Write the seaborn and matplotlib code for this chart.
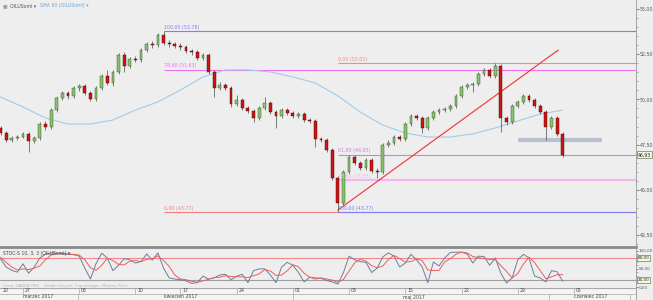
import numpy as np
import matplotlib
matplotlib.use("Agg")
import matplotlib.pyplot as plt
import matplotlib.transforms as mtrans
from matplotlib.ticker import MultipleLocator, FixedLocator
import seaborn as sns

# ---------------- data ----------------
opens = [48.42, 48.14, 47.76, 47.87, 47.92, 48.09, 47.70, 47.87, 48.64, 48.47,
         49.41, 50.08, 50.36, 50.19, 50.63, 50.74, 50.36, 50.02, 50.63, 51.29,
         50.91, 51.52, 52.46, 51.85, 52.23, 52.18, 52.73, 53.06, 53.01, 53.56,
         53.12, 53.06, 52.95, 52.90, 52.68, 52.62, 52.29, 52.46, 51.52, 50.63,
         50.80, 50.63, 49.75, 49.97, 49.53, 49.36, 48.97, 49.53, 49.80, 49.30,
         49.08, 49.41, 49.25, 49.08, 49.19, 48.86, 48.81, 47.81, 47.76, 47.20,
         45.65, 44.27, 45.99, 46.81, 46.48, 46.21, 46.65, 46.04, 45.99, 47.48,
         47.59, 47.92, 47.81, 48.64, 49.08, 48.97, 48.42, 48.97, 49.30, 49.41,
         49.47, 49.64, 50.19, 50.69, 50.80, 50.85, 51.40, 51.63, 51.29, 51.85,
         48.97, 48.75, 49.64, 49.86, 50.19, 49.97, 49.64, 49.30, 48.47, 48.97,
         48.09]
highs = [48.53, 48.25, 47.98, 48.03, 48.20, 48.20, 47.98, 48.75, 48.81, 49.53,
         50.19, 50.47, 50.47, 50.74, 50.85, 50.85, 50.47, 50.74, 51.40, 51.63,
         51.63, 52.57, 52.62, 52.35, 52.40, 52.84, 53.18, 53.23, 53.67, 53.78,
         53.29, 53.18, 53.12, 53.01, 52.79, 52.73, 52.57, 52.57, 51.63, 50.96,
         50.91, 50.74, 50.24, 50.08, 49.64, 49.47, 49.64, 50.13, 49.91, 49.41,
         49.53, 49.53, 49.36, 49.30, 49.30, 48.97, 48.92, 47.92, 47.87, 47.31,
         45.76, 46.10, 46.93, 46.93, 46.59, 46.76, 46.76, 46.21, 47.59, 47.76,
         48.03, 48.03, 48.75, 49.19, 49.19, 49.08, 49.08, 49.41, 49.53, 49.58,
         49.75, 50.30, 50.80, 50.91, 50.96, 51.52, 51.74, 51.74, 52.01, 51.96,
         49.08, 49.75, 49.97, 50.30, 50.30, 50.08, 49.75, 49.41, 49.08, 49.08,
         48.20]
lows = [48.03, 47.64, 47.64, 47.76, 47.87, 47.09, 47.59, 47.76, 48.31, 48.36,
        49.30, 49.97, 50.02, 50.08, 50.47, 50.24, 49.91, 49.91, 50.52, 50.80,
        50.74, 51.40, 51.52, 51.74, 52.07, 52.07, 52.62, 52.84, 52.90, 53.01,
        52.90, 52.84, 52.73, 52.57, 52.46, 52.18, 52.18, 51.40, 50.13, 50.52,
        50.52, 49.58, 49.64, 49.41, 49.25, 48.75, 48.86, 49.41, 49.19, 48.42,
        48.97, 49.14, 48.97, 48.97, 48.75, 48.70, 47.37, 47.64, 47.09, 45.54,
        43.77, 44.16, 45.87, 46.37, 46.10, 46.10, 45.93, 45.65, 45.87, 47.37,
        47.48, 47.70, 47.70, 48.53, 48.86, 48.14, 48.31, 48.86, 49.19, 49.30,
        49.36, 49.53, 50.08, 50.58, 50.41, 50.74, 51.29, 51.18, 51.18, 48.20,
        48.58, 48.64, 49.53, 49.75, 49.86, 49.53, 49.19, 47.76, 48.36, 47.98,
        46.81]
closes = [48.14, 47.76, 47.87, 47.92, 48.09, 47.70, 47.87, 48.64, 48.47, 49.41,
          50.08, 50.36, 50.19, 50.63, 50.74, 50.36, 50.02, 50.63, 51.29, 50.91,
          51.52, 52.46, 51.85, 52.23, 52.18, 52.73, 53.06, 53.01, 53.56, 53.12,
          53.06, 52.95, 52.90, 52.68, 52.62, 52.29, 52.46, 51.52, 50.63, 50.80,
          50.63, 49.75, 49.97, 49.53, 49.36, 48.97, 49.53, 49.80, 49.30, 49.08,
          49.41, 49.25, 49.08, 49.19, 48.86, 48.81, 47.81, 47.76, 47.20, 45.65,
          44.27, 45.99, 46.81, 46.48, 46.21, 46.65, 46.04, 45.99, 47.48, 47.59,
          47.92, 47.81, 48.64, 49.08, 48.97, 48.42, 48.97, 49.30, 49.41, 49.47,
          49.64, 50.19, 50.69, 50.80, 50.85, 51.40, 51.63, 51.29, 51.85, 48.97,
          48.75, 49.64, 49.86, 50.19, 49.97, 49.64, 49.30, 48.47, 48.97, 48.09,
          46.93]

# SMA 60, read every 4th bar
sma_values = [50.13, 49.58, 48.97, 48.64, 48.64, 48.86, 49.41, 49.86, 50.52, 51.24,
              51.63, 51.63, 51.52, 51.24, 50.91, 50.19, 49.30, 48.58, 48.14, 47.92,
              47.92, 48.09, 48.42, 48.81, 49.19, 49.41]

stoch_k = [78, 55, 46, 41, 64, 38, 55, 80, 90, 94,
           93, 91, 90, 89, 85, 52, 22, 65, 93, 80,
           45, 60, 78, 75, 66, 70, 91, 74, 94, 52,
           25, 22, 20, 17, 10, 12, 30, 22, 25, 33,
           35, 20, 30, 35, 12, 45, 50, 50, 33, 12,
           55, 68, 60, 40, 14, 27, 25, 24, 18, 14,
           8, 40, 85, 75, 70, 68, 40, 52, 83, 94,
           85, 55, 66, 90, 75, 55, 12, 69, 58, 80,
           95, 96, 96, 91, 66, 85, 84, 60, 80, 38,
           11, 25, 75, 90, 80, 30, 25, 14, 45, 42,
           16]
stoch_d = [82, 68, 55, 47, 50, 48, 52, 58, 75, 88,
           92, 93, 91, 90, 88, 75, 53, 46, 60, 79,
           73, 62, 61, 71, 73, 70, 76, 78, 86, 73,
           57, 33, 22, 20, 16, 13, 17, 21, 26, 27,
           31, 29, 28, 28, 26, 31, 36, 48, 44, 32,
           33, 45, 61, 56, 38, 27, 22, 25, 22, 19,
           13, 21, 44, 67, 77, 71, 59, 53, 58, 76,
           87, 78, 69, 70, 77, 73, 47, 45, 46, 69,
           78, 90, 96, 94, 84, 81, 78, 76, 75, 59,
           43, 25, 37, 63, 82, 67, 45, 23, 28, 34,
           34]

fib1_levels = [100.0, 78.6, 0.0]
fib1_prices = [53.78, 51.63, 43.77]
fib1_colors = ["#7f7ff0", "#f070f0", "#f08080"]
fib2_levels = [0.0, 61.8, 78.6, 100.0]
fib2_prices = [52.01, 46.93, 45.53, 43.77]
fib2_colors = ["#f08a8a", "#c08cc8", "#f4b6ee", "#7f7ff0"]
fib2_widths = [0.8, 0.8, 1.6, 0.8]

trend_k = [60.0, 99.2]
trend_p = [43.88, 52.73]
support_k = [92, 107]
support_p = 47.76

date_tick_k = [4, 14, 24, 32, 42, 52, 62, 72, 82, 92, 102]
date_tick_labels = ["27", "03", "10", "17", "24", "01", "08", "15", "22", "29", "05"]
month_labels = ["marzec 2017", "kwiecień 2017", "maj 2017", "czerwiec 2017"]
month_bounds = [13.75, 52.0, 97.5, 112.0]
month_label_k = [6.7, 32.0, 73.6, 105.0]

price_ticks = [42.5, 45.0, 47.5, 50.0, 52.5, 55.0]
osc_ticks = [0, 50, 100]
osc_boxed = [80, 20]

# ---------------- style ----------------
sns.set_theme(style="white", rc={"axes.facecolor": "#eeeeee",
                                 "figure.facecolor": "#eeeeee"})
plt.rcParams["font.family"] = ["DejaVu Sans"]

W, H = 653, 300
fig = plt.figure(figsize=(W / 100, H / 100), dpi=100)


def rect(x0, y0, x1, y1):
    return [x0 / W, 1 - y1 / H, (x1 - x0) / W, (y1 - y0) / H]


ax = fig.add_axes(rect(0, 0, 636, 247))
axo = fig.add_axes(rect(0, 249, 636, 288), sharex=ax)
axd = fig.add_axes(rect(0, 288, 636, 300), sharex=ax)

XMIN, XMAX = -0.089, 113.03

o = np.array(opens)
c = np.array(closes)
hi = np.array(highs)
lo = np.array(lows)
k = np.arange(len(c))
up = c >= o

# candles
ax.vlines(k, lo, hi, color="#5a5a5a", linewidth=0.55, zorder=3)
body_up = np.maximum((c - o)[up], 0.02)
body_dn = np.maximum((o - c)[~up], 0.02)
ax.bar(k[up], body_up, bottom=o[up], width=0.5, color="#88c46c",
       edgecolor="#2f4a25", linewidth=0.3, zorder=4)
ax.bar(k[~up], body_dn, bottom=c[~up], width=0.5, color="#d01414",
       edgecolor="#3a0808", linewidth=0.3, zorder=4)

# SMA 60
sma_k = np.arange(0, len(c), 4)
sns.lineplot(x=sma_k, y=sma_values, ax=ax, color="#a2cbe8", linewidth=0.8, zorder=2)

# Fibonacci set 1 (from the high bar)
for lev, p, col in zip(fib1_levels, fib1_prices, fib1_colors):
    ax.hlines(p, 29, XMAX, color=col, linewidth=0.8, zorder=1)
    ax.text(29, p + 0.08, f"{lev:.2f} ({p:.2f})".replace(".", ","), fontsize=3.4,
            color=col, va="bottom", ha="left", zorder=5)
# Fibonacci set 2 (from the low bar)
for lev, p, col, lw in zip(fib2_levels, fib2_prices, fib2_colors, fib2_widths):
    ax.hlines(p, 60, XMAX, color=col, linewidth=lw, zorder=1)
    ax.text(60, p + 0.08, f"{lev:.2f} ({p:.2f})".replace(".", ","), fontsize=3.4,
            color=col, va="bottom", ha="left", zorder=5)

# trend line and support band
ax.plot(trend_k, trend_p, color="#f03030", linewidth=0.8, zorder=2)
ax.hlines(support_p, support_k[0], support_k[1], color="#b0b8cc", linewidth=3.0,
          alpha=0.85, zorder=2)

ax.set_xlim(XMIN, XMAX)
ax.set_ylim(41.836, 55.498)
ax.yaxis.tick_right()
ax.yaxis.set_major_locator(FixedLocator(price_ticks))
ax.yaxis.set_minor_locator(MultipleLocator(0.5))
ax.set_yticklabels([f"{t:.2f}".replace(".", ",") for t in price_ticks])
ax.tick_params(axis="y", which="major", labelsize=3.4, length=2.0, width=0.5,
               colors="#555555", pad=0.8, right=True)
ax.tick_params(axis="y", which="minor", length=1.3, width=0.4, colors="#777777", right=True)
ax.tick_params(axis="x", bottom=False, labelbottom=False)
for s in ["top", "left"]:
    ax.spines[s].set_visible(False)
ax.spines["right"].set_color("#9a9a9a")
ax.spines["right"].set_linewidth(0.6)
ax.spines["bottom"].set_color("#8a8a8a")
ax.spines["bottom"].set_linewidth(2.0)
ax.set_xlabel("")
ax.set_ylabel("")

# current price box
tr = mtrans.blended_transform_factory(ax.transAxes, ax.transData)
ax.text(1.003, c[-1], f"{c[-1]:.2f}".replace(".", ","), transform=tr, fontsize=3.3,
        va="center", ha="left", color="#222222",
        bbox=dict(boxstyle="square,pad=0.2", fc="#f6f6d8", ec="#555555", lw=0.4))

# top legend
fig.text(3 / W, 1 - 6 / H, "\u25a0", fontsize=3.6, color="#a0a0a0", va="center")
fig.text(10 / W, 1 - 6 / H, "OILUSoml \u25be", fontsize=3.3, color="#555555", va="center")
fig.text(40 / W, 1 - 6 / H, "SMA 60 (OILUSoml) \u25be", fontsize=3.3, color="#6aa6d8",
         va="center")

# ---------------- oscillator ----------------
axo.axhline(80, color="#f08a8a", linewidth=0.8, zorder=1)
axo.axhline(20, color="#a0a0a0", linewidth=0.8, zorder=1)
sns.lineplot(x=k, y=stoch_k, ax=axo, color="#6f7d9a", linewidth=0.7, zorder=2)
sns.lineplot(x=k, y=stoch_d, ax=axo, color="#ec5f5f", linewidth=0.7, zorder=3)
axo.set_xlim(XMIN, XMAX)
axo.set_ylim(-2.75, 104.7)
axo.yaxis.tick_right()
axo.yaxis.set_major_locator(FixedLocator(osc_ticks))
axo.set_yticklabels([f"{t:.2f}".replace(".", ",") for t in osc_ticks])
axo.yaxis.set_minor_locator(MultipleLocator(10))
axo.tick_params(axis="y", which="major", labelsize=3.0, length=1.6, width=0.5,
                colors="#555555", pad=0.5, right=True)
axo.tick_params(axis="y", which="minor", length=1.2, width=0.4, colors="#777777", right=True)
axo.tick_params(axis="x", bottom=False, labelbottom=False)
for s in ["top", "left", "bottom"]:
    axo.spines[s].set_visible(False)
axo.spines["right"].set_color("#9a9a9a")
axo.spines["right"].set_linewidth(0.6)
axo.set_xlabel("")
axo.set_ylabel("")
tro = mtrans.blended_transform_factory(axo.transAxes, axo.transData)
for v in osc_boxed:
    axo.text(1.003, v, f"{v:.2f}".replace(".", ","), transform=tro, fontsize=3.0,
             va="center", ha="left", color="#222222",
             bbox=dict(boxstyle="square,pad=0.2", fc="#f6f6d8", ec="#555555", lw=0.4))
fig.text(3 / W, 1 - 254 / H, "STOC-S 10, 3, 3 (OILUSoml) \u25be", fontsize=3.3,
         color="#444444", va="center")
fig.text(3 / W, 1 - 285.5 / H,
         "Cena: OANDA/TMS    Źródło danych: Copenhagen, Madrid, Paris",
         fontsize=2.8, color="#b4b4b4", va="center")

# ---------------- date strip ----------------
axd.set_facecolor("#f4f4f4")
axd.set_xlim(XMIN, XMAX)
axd.set_ylim(0, 2)
axd.axhline(1, color="#a8a8a8", linewidth=0.5)
axd.axhline(2, color="#a8a8a8", linewidth=0.8)
axd.vlines(date_tick_k, 1, 2, color="#a8a8a8", linewidth=0.5)
for tk, lab in zip(date_tick_k, date_tick_labels):
    axd.text(tk + 0.35, 1.5, lab, fontsize=3.3, color="#444444", va="center", ha="left")
axd.text(0.3, 1.5, "20", fontsize=3.3, color="#444444", va="center", ha="left")
axd.vlines(month_bounds, 0, 1, color="#a8a8a8", linewidth=0.5)
for mk, lab in zip(month_label_k, month_labels):
    axd.text(mk, 0.5, lab, fontsize=3.3, color="#444444", va="center", ha="center")
axd.set_xticks([])
axd.set_yticks([])
for s in ["top", "left", "bottom"]:
    axd.spines[s].set_visible(False)
axd.spines["right"].set_color("#9a9a9a")
axd.spines["right"].set_linewidth(0.6)
axd.set_xlabel("")
axd.set_ylabel("")

fig.savefig("out.png", dpi=100, facecolor=fig.get_facecolor())
